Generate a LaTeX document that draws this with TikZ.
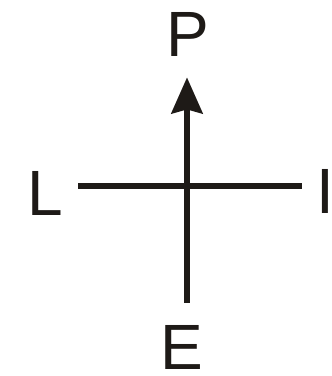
\documentclass[tikz,border=0pt]{standalone}
\usepackage{fontspec}
\setmainfont{Liberation Sans}
\usetikzlibrary{arrows.meta}
\definecolor{ink}{HTML}{1E1A17}

\begin{document}
\begin{tikzpicture}[x=0.5pt,y=-0.5pt,
  letter/.style={font=\fontsize{32}{32}\selectfont,anchor=base,inner sep=2pt,text=ink},
  axis/.style={line width=3pt,draw=ink},
  arrow/.style={axis,-{Stealth[length=18pt,width=15.5pt,inset=2pt]}},
]
\useasboundingbox (0,0) rectangle (332,376);

% Four labels
\node[letter] (P) at (188,56) {P};
\node[letter] (L) at (45,215) {L};
\node[letter] (I) at (325,213) {I};
\node[letter] (E) at (182,369) {E};

% Crossing point
\coordinate (c) at (187,186);

% Axes
\draw[axis,shorten <=5.5pt,shorten >=5pt] (L.east |- c) -- (I.west |- c);
\draw[arrow,shorten <=9pt,shorten >=8.5pt] (c |- E.north) -- (c |- P.south);

\end{tikzpicture}
\end{document}
